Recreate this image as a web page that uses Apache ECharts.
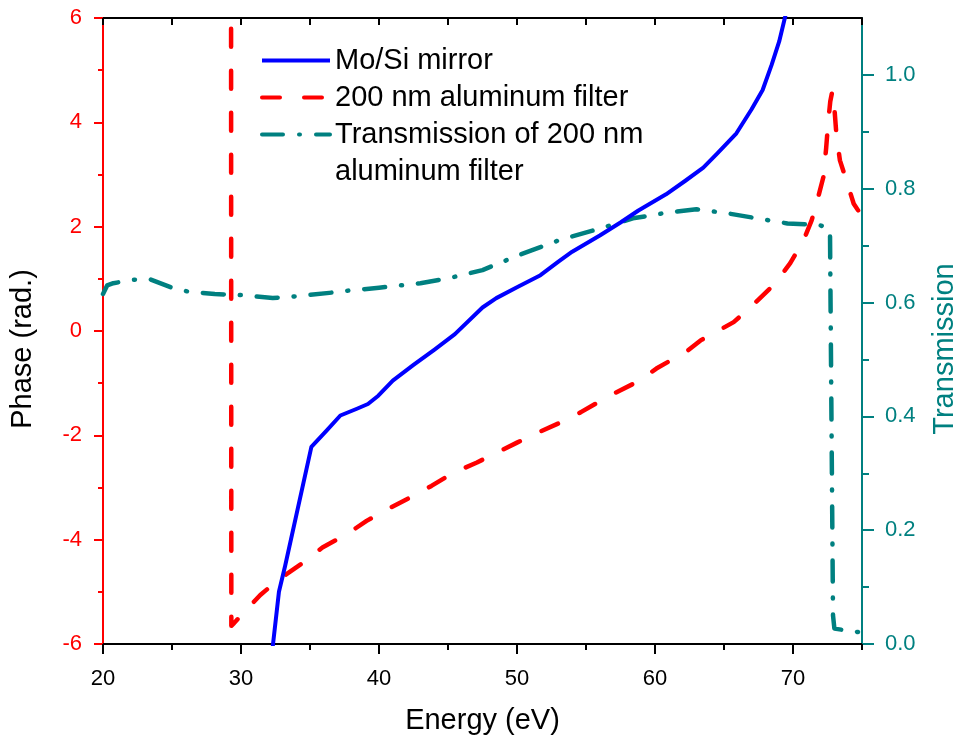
<!DOCTYPE html>
<html>
<head>
<meta charset="utf-8">
<title>Phase and transmission vs energy</title>
<script src="https://cdn.jsdelivr.net/npm/echarts@6/dist/echarts.min.js"></script>
<style>
  html, body { margin: 0; padding: 0; background: #fff; }
  #chart { width: 959px; height: 742px; }
</style>
</head>
<body>
<div id="chart"></div>
<script>
// Phase of the Mo/Si multilayer mirror (energy eV, phase rad)
const mirrorPhase = [
  [32.3, -6.05], [32.75, -5.0], [33.2, -4.5], [35.1, -2.22], [36.2, -1.91],
  [37.2, -1.62], [38.4, -1.49], [39.2, -1.40], [39.95, -1.24], [41.0, -0.95],
  [42.5, -0.65], [44.0, -0.36], [45.5, -0.06], [47.5, 0.45], [48.5, 0.63],
  [50.0, 0.84], [51.7, 1.07], [53.0, 1.33], [54.0, 1.52], [56.0, 1.83],
  [57.5, 2.08], [58.8, 2.31], [60.8, 2.62], [62.2, 2.88], [63.5, 3.13],
  [64.5, 3.40], [65.9, 3.79], [67.0, 4.25], [67.8, 4.62], [68.45, 5.1],
  [69.0, 5.55], [69.5, 6.1]
];

// Phase of the 200 nm aluminum filter (energy eV, phase rad)
const filterPhase = [
  [29.28, 6.6], [29.3, -5.65], [29.5, -5.6], [29.9, -5.48], [31.4, -5.06],
  [32.8, -4.75], [34.5, -4.44], [35.9, -4.15], [37.7, -3.89], [39.1, -3.64],
  [40.8, -3.39], [42.2, -3.2], [43.8, -2.97], [45.3, -2.73], [47.1, -2.52],
  [48.4, -2.35], [50.0, -2.14], [51.5, -1.95], [53.1, -1.76], [54.6, -1.56],
  [56.7, -1.24], [58.9, -0.95], [60.1, -0.72], [62.4, -0.37], [63.3, -0.18],
  [65.7, 0.17], [66.9, 0.45], [68.7, 0.91], [69.8, 1.3], [70.75, 1.73],
  [71.35, 2.12], [71.83, 2.57], [72.2, 2.95], [72.4, 3.5], [72.55, 4.0],
  [72.7, 4.4], [72.85, 4.6], [72.95, 4.45], [73.15, 3.75], [73.4, 3.27],
  [73.9, 2.86], [74.4, 2.44], [75.0, 2.2]
];

// Transmission of the 200 nm aluminum filter (energy eV, transmission)
const filterTransmission = [
  [20.0, 0.615], [20.3, 0.63], [20.75, 0.634], [22.2, 0.64], [23.4, 0.641],
  [24.9, 0.627], [26.2, 0.619], [28.1, 0.615], [30.05, 0.613], [32.3, 0.608],
  [34.0, 0.611], [36.4, 0.617], [37.8, 0.621], [40.0, 0.626], [43.0, 0.634],
  [45.1, 0.643], [47.5, 0.657], [50.2, 0.684], [53.1, 0.71], [56.0, 0.73],
  [58.4, 0.748], [60.9, 0.758], [63.0, 0.764], [65.2, 0.757], [67.4, 0.748],
  [69.6, 0.739], [71.96, 0.736], [72.68, 0.728], [72.9, 0.05], [73.0, 0.027],
  [75.0, 0.02]
];

// Series names
const seriesNames = [
  'Mo/Si mirror',
  '200 nm aluminum filter',
  'Transmission of 200 nm aluminum filter'
];

// Tick positions and label values
const energyMajorTicks = [20, 30, 40, 50, 60, 70];
const energyMinorTicks = [25, 35, 45, 55, 65, 75];
const energyAllTicks = [20, 25, 30, 35, 40, 45, 50, 55, 60, 65, 70, 75];
const transMajorTicks = [0, 0.2, 0.4, 0.6, 0.8, 1.0];
const transMinorTicks = [0.1, 0.3, 0.5, 0.7, 0.9];

const FONT = 'Arial, "Liberation Sans", sans-serif';
const BLUE = '#0000ff';
const RED = '#ff0000';
const TEAL = '#008080';

const chart = echarts.init(document.getElementById('chart'));

const option = {
  backgroundColor: '#ffffff',
  animation: false,
  grid: { left: 103, top: 18, width: 759, height: 626, containLabel: false, outerBoundsMode: 'none' },
  legend: {
    data: seriesNames,
    orient: 'vertical',
    left: 260,
    top: 42,
    padding: 0,
    itemWidth: 68,
    itemHeight: 14,
    itemGap: 0,
    lineStyle: { width: 4 },
    itemStyle: { opacity: 0 },
    formatter: (name) => name === seriesNames[2] ? 'Transmission of 200 nm' : name,
    textStyle: { fontFamily: FONT, fontSize: 29, color: '#000', lineHeight: 37 }
  },
  graphic: [{
    type: 'text',
    left: 335,
    top: 157,
    style: { text: 'aluminum filter', font: '29px ' + FONT, fill: '#000' }
  }],
  xAxis: [
    {
      type: 'value', position: 'bottom', min: 20, max: 75,
      name: 'Energy (eV)', nameLocation: 'middle', nameGap: 62,
      nameTextStyle: { fontFamily: FONT, fontSize: 29, color: '#000' },
      axisLine: { onZero: false, lineStyle: { color: '#000', width: 2 } },
      axisTick: { customValues: energyMajorTicks, length: 10, lineStyle: { color: '#000', width: 2 } },
      axisLabel: { customValues: energyMajorTicks, margin: 24, fontFamily: FONT, fontSize: 22, color: '#000' },
      splitLine: { show: false }
    },
    {
      type: 'value', position: 'bottom', min: 20, max: 75,
      axisLine: { show: false, onZero: false },
      axisTick: { customValues: energyMinorTicks, length: 6, lineStyle: { color: '#000', width: 2 } },
      axisLabel: { show: false },
      splitLine: { show: false }
    },
    {
      type: 'value', position: 'top', min: 20, max: 75,
      axisLine: { onZero: false, lineStyle: { color: '#000', width: 2 } },
      axisTick: { customValues: energyAllTicks, inside: true, length: 7, lineStyle: { color: '#000', width: 2 } },
      axisLabel: { show: false },
      splitLine: { show: false }
    }
  ],
  yAxis: [
    {
      type: 'value', position: 'left', min: -6, max: 6, interval: 2,
      name: 'Phase (rad.)', nameLocation: 'middle', nameGap: 66, nameRotate: 90,
      nameTextStyle: { fontFamily: FONT, fontSize: 29, color: '#000', padding: [0, 36, 0, 0] },
      axisLine: { onZero: false, lineStyle: { color: RED, width: 2 } },
      axisTick: { length: 9, lineStyle: { color: RED, width: 2 } },
      minorTick: { show: true, splitNumber: 2, length: 5, lineStyle: { color: RED, width: 2 } },
      axisLabel: { margin: 21, fontFamily: FONT, fontSize: 22, color: RED },
      splitLine: { show: false }
    },
    {
      type: 'value', position: 'right', min: 0, max: 1.1,
      name: 'Transmission', nameLocation: 'middle', nameGap: 68, nameRotate: 90,
      nameTextStyle: { fontFamily: FONT, fontSize: 29, color: TEAL, padding: [0, 36, 0, 0] },
      axisLine: { onZero: false, lineStyle: { color: TEAL, width: 2 } },
      axisTick: { customValues: transMajorTicks, length: 12, lineStyle: { color: TEAL, width: 2 } },
      axisLabel: {
        customValues: transMajorTicks, margin: 23, fontFamily: FONT, fontSize: 22, color: TEAL,
        formatter: (v) => v.toFixed(1)
      },
      splitLine: { show: false }
    },
    {
      type: 'value', position: 'right', min: 0, max: 1.1,
      axisLine: { show: false, onZero: false },
      axisTick: { customValues: transMinorTicks, length: 7, lineStyle: { color: TEAL, width: 2 } },
      axisLabel: { show: false },
      splitLine: { show: false }
    }
  ],
  series: [
    {
      name: seriesNames[0], type: 'line', xAxisIndex: 0, yAxisIndex: 0,
      data: mirrorPhase, symbol: 'none', z: 4, clip: true,
      lineStyle: { color: BLUE, width: 4, join: 'round' }, itemStyle: { color: BLUE }
    },
    {
      name: seriesNames[1], type: 'line', xAxisIndex: 0, yAxisIndex: 0,
      data: filterPhase, symbol: 'none', z: 2, clip: true,
      lineStyle: { color: RED, width: 4.5, type: [18, 24], cap: 'round', join: 'round' }, itemStyle: { color: RED }
    },
    {
      name: seriesNames[2], type: 'line', xAxisIndex: 0, yAxisIndex: 1,
      data: filterTransmission, symbol: 'none', z: 3, clip: true,
      lineStyle: { color: TEAL, width: 4.5, type: [21, 16, 1, 16], cap: 'round', join: 'round' }, itemStyle: { color: TEAL }
    }
  ]
};

chart.setOption(option);
</script>
</body>
</html>
